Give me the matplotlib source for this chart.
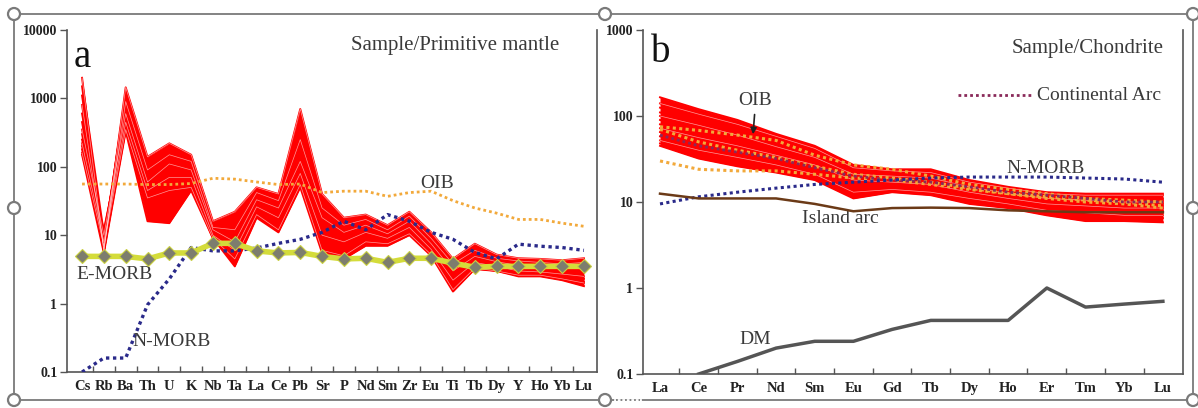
import numpy as np
import matplotlib
matplotlib.use("Agg")
import matplotlib.pyplot as plt
from matplotlib.lines import Line2D
from matplotlib.patches import Circle

plt.rcParams["font.family"] = ["Liberation Serif", "DejaVu Serif"]

# ── Data: panel a (primitive-mantle normalised spider diagram) ───────────────
pm_elements = ["Cs", "Rb", "Ba", "Th", "U", "K", "Nb", "Ta", "La", "Ce", "Pb", "Sr",
               "P", "Nd", "Sm", "Zr", "Eu", "Ti", "Tb", "Dy", "Y", "Ho", "Yb", "Lu"]

pm_samples = [
    [2000, 6, 1450, 140, 220, 150, 16, 22, 50, 40, 700, 40, 18, 20, 14, 22, 11, 4.5, 7.5, 5.2, 4.6, 4.5, 4.3, 4.6],
    [1500, 7, 1200, 120, 180, 140, 15, 18, 48, 38, 500, 35, 16, 19, 13, 21, 10, 4.2, 7.0, 5.0, 4.4, 4.3, 4.2, 4.4],
    [1100, 8, 1000, 100, 160, 130, 14, 15, 45, 35, 350, 30, 15, 18, 12.5, 20, 9.5, 4.0, 6.5, 4.8, 4.3, 4.2, 4.0, 4.2],
    [800, 6, 900, 90, 150, 120, 13, 12, 42, 32, 250, 25, 14, 17, 12, 19, 9, 3.8, 6.0, 4.6, 4.2, 4.0, 3.8, 4.0],
    [600, 9, 800, 80, 140, 110, 13, 10, 40, 30, 200, 22, 13, 16, 11.5, 18, 8.5, 3.5, 5.6, 4.5, 4.0, 3.9, 3.7, 3.8],
    [450, 7, 700, 70, 120, 100, 12, 9, 36, 28, 150, 20, 12, 15, 11, 17, 8, 3.2, 5.2, 4.3, 3.8, 3.7, 3.5, 3.5],
    [350, 10, 600, 60, 110, 90, 12, 8, 33, 25, 120, 18, 11, 14, 10.5, 16, 7.5, 3.0, 4.9, 4.1, 3.6, 3.5, 3.3, 3.3],
    [300, 6, 550, 55, 90, 80, 11, 7, 30, 22, 100, 15, 10, 13, 10, 15, 7, 2.8, 4.6, 3.9, 3.4, 3.3, 3.1, 3.0],
    [250, 11, 500, 50, 80, 75, 11, 6.5, 28, 20, 90, 12, 9, 12, 9.5, 14, 6.5, 2.5, 4.3, 3.7, 3.2, 3.1, 2.9, 2.8],
    [220, 8, 450, 45, 70, 70, 10, 6, 26, 18, 80, 10, 8, 11, 9, 13, 6.2, 2.2, 4.0, 3.5, 3.0, 2.9, 2.7, 2.5],
    [200, 12, 400, 40, 60, 60, 10, 5.5, 24, 16, 70, 8, 7, 10, 8.5, 12, 6, 2.0, 3.7, 3.3, 2.8, 2.8, 2.5, 2.3],
    [180, 6, 380, 38, 55, 55, 9.5, 5, 22, 14, 60, 7, 6, 9, 8, 11, 5.5, 1.8, 3.5, 3.1, 2.7, 2.7, 2.4, 2.1],
    [160, 7, 350, 35, 45, 50, 9, 4.5, 20, 12, 55, 6, 5, 8, 7.5, 10.5, 5.2, 1.6, 3.3, 3.0, 2.6, 2.6, 2.3, 2.0],
    [150, 5.5, 330, 16, 15, 45, 9, 3.5, 18, 11, 50, 5.5, 4.5, 7, 7, 10, 5, 1.5, 3.2, 3.0, 2.5, 2.5, 2.2, 1.8],
]

pm_oib = [56, 56, 56, 55, 55, 57, 68, 66, 60, 55, 56, 42, 44, 44, 37, 42, 44, 32, 25, 21, 17, 17, 15, 13.5]
pm_emorb = [4.9, 4.9, 4.9, 4.5, 5.5, 5.5, 7.6, 7.6, 5.9, 5.5, 5.6, 4.9, 4.5, 4.6, 4.0, 4.6, 4.6, 3.9, 3.4, 3.5, 3.5, 3.5, 3.5, 3.5]
pm_nmorb = [0.1, 0.16, 0.16, 0.96, 2.3, 6.6, 5.9, 5.9, 6.5, 7.6, 8.7, 11, 16, 12, 20, 16, 11, 8.7, 5.6, 4.5, 7.4, 6.9, 6.6, 6.0]

# ── Data: panel b (chondrite normalised REE) ─────────────────────────────────
ree_elements = ["La", "Ce", "Pr", "Nd", "Sm", "Eu", "Gd", "Tb", "Dy", "Ho", "Er", "Tm", "Yb", "Lu"]

ree_samples = [
    [165, 120, 90, 62, 45, 27, 24, 24, 18, 15, 13, 12.5, 12.5, 12.5],
    [140, 105, 80, 58, 42, 25, 23, 22, 17, 14.5, 12.5, 12, 12, 12],
    [125, 95, 72, 52, 38, 24, 22, 21, 16, 14, 12, 11.5, 11.5, 11],
    [110, 85, 65, 48, 35, 22, 21, 20, 15.5, 13, 11.5, 11, 10.5, 10.5],
    [100, 78, 60, 44, 33, 21, 20, 19, 15, 12.5, 11, 10.5, 10, 10],
    [90, 70, 55, 41, 31, 20, 19, 18, 14, 12, 10.5, 10, 9.5, 9.5],
    [80, 62, 50, 38, 29, 19, 18, 17, 13.5, 11.5, 10, 9.5, 9, 9],
    [72, 56, 45, 35, 27, 18, 17, 16, 13, 11, 9.5, 9, 8.5, 8.5],
    [65, 50, 41, 32, 25, 16, 16, 15, 12, 10.5, 9, 8.5, 8, 8],
    [58, 45, 37, 30, 23, 15, 15, 14, 11.5, 10, 8.5, 8, 7.5, 7.5],
    [52, 40, 33, 27, 21, 13, 14, 13, 11, 9.5, 8, 7.5, 7, 7],
    [48, 36, 29, 24, 19, 12, 13.5, 12.5, 10, 9, 7.5, 7, 6.5, 6.5],
    [45, 32, 26, 22, 18, 11, 13, 12, 9.5, 8.5, 7, 6, 6, 5.8],
]

ree_oib = [
    [75, 68, 60, 52, 35, 27, 24, 20, 16, 14, 12.5, 11, 10.5, 10],
    [70, 50, 40, 33, 26, 21, 19, 17, 14.5, 12.5, 11, 10, 9.5, 8.5],
    [30, 24, 23, 23, 21, 19, 18, 16, 14, 12.5, 11.5, 10.5, 10, 9],
]
ree_cont_arc = [60, 45, 38, 32, 25, 20, 18, 17, 15, 13, 12, 11, 10, 10]
ree_nmorb = [9.5, 11.5, 13, 14.5, 16, 17, 18, 19, 19.5, 19.5, 19.5, 19, 18.5, 17]
ree_island_arc = [12.5, 11, 11, 11, 9.5, 7.8, 8.5, 8.6, 8.5, 8.0, 7.8, 7.6, 7.6, 7.6]
ree_dm = [np.nan, 0.1, 0.14, 0.2, 0.24, 0.24, 0.33, 0.42, 0.42, 0.42, 1.0, 0.6, 0.65, 0.7]

# ── Styles ───────────────────────────────────────────────────────────────────
RED = "#ff0000"
ORANGE = "#f2a93b"
NAVY = "#2a2a8a"
TXT = "#3a3a3a"
DOT = (0, (1, 1.1))
FS = 14

fig = plt.figure(figsize=(11.98, 4.08), dpi=100)

# document frame with selection handles
bg = fig.add_axes([0, 0, 1, 1], zorder=-5)
bg.set_xlim(0, 1198); bg.set_ylim(408, 0); bg.axis("off")
fc = "#7a7a7a"
bg.plot([14, 1193], [14, 14], color=fc, lw=1.3)
bg.plot([14, 1193], [400, 400], color=fc, lw=1.3)
bg.plot([14, 14], [14, 400], color=fc, lw=1.3)
bg.plot([1193, 1193], [14, 400], color=fc, lw=1.3)
bg.plot([615, 640], [400, 400], color="white", lw=2)
bg.plot([616, 640], [400, 400], color=fc, lw=1.3, ls=(0, (1, 1.5)))
for cx, cy in [(14, 14), (14, 208), (14, 400), (605, 14), (605, 400),
               (1193, 14), (1193, 208), (1193, 400)]:
    bg.add_patch(Circle((cx, cy), 6, facecolor="white", edgecolor=fc, lw=1.6, zorder=3))


def style_axes(ax, labels, ylim, yticks, yticklabels, xfs):
    n = len(labels)
    ax.set_yscale("log")
    ax.set_ylim(*ylim)
    ax.set_xticks(range(n))
    ax.set_xticklabels(labels, fontsize=xfs, fontweight="bold", color="#222")
    ax.tick_params(axis="x", which="major", length=0, pad=6)
    ax.set_xticks(np.arange(n - 1) + 0.5, minor=True)
    ax.tick_params(axis="x", which="minor", direction="in", length=4, width=1, color="#555")
    ax.set_yticks(yticks)
    ax.set_yticklabels(yticklabels, fontsize=10, fontweight="bold", color="#222")
    ax.yaxis.set_minor_locator(matplotlib.ticker.NullLocator())
    ax.tick_params(axis="y", which="major", direction="out", length=5, width=1, color="#555", pad=2)
    ax.spines["top"].set_visible(False)
    for s in ("left", "bottom", "right"):
        ax.spines[s].set_color("#555")
        ax.spines[s].set_linewidth(1.2)


# ── Panel a ──────────────────────────────────────────────────────────────────
axa = fig.add_axes([67 / 1198, 36 / 408, 530 / 1198, 342 / 408])
xa = np.arange(len(pm_elements))
pm_arr = np.array(pm_samples)
axa.fill_between(xa, pm_arr.min(axis=0), pm_arr.max(axis=0), color=RED, lw=0, zorder=2)
for s in pm_samples:
    axa.plot(xa, s, color=RED, lw=1.4, zorder=2)
for s in pm_samples[::3]:
    axa.plot(xa, s, color="white", lw=0.5, alpha=0.6, zorder=2.1)
axa.plot(xa, pm_oib, color=ORANGE, lw=2, ls=DOT, zorder=3)
axa.plot(xa, pm_nmorb, color=NAVY, lw=2.4, ls=DOT, zorder=3)
axa.plot(xa, pm_emorb, color="#d4dc3a", lw=4, zorder=4)
axa.plot(xa, pm_emorb, ls="none", marker="D", ms=7, mfc="#7d7d6e", mec="#c9d040", mew=0.8, zorder=5)
axa.set_xlim(-0.69, 23.6)
style_axes(axa, pm_elements, (0.1, 10000), [0.1, 1, 10, 100, 1000, 10000],
           ["0.1", "1", "10", "100", "1000", "10000"], 10.5)

axa.text(0.012, 0.92, "a", transform=axa.transAxes, fontsize=28, va="center", color="#111")
axa.text(0.536, 0.956, "Sample/Primitive mantle", transform=axa.transAxes,
         fontsize=15, va="center", color=TXT)
axa.text(16.26, 57, "OIB", fontsize=FS, ha="center", va="center", color=TXT)
axa.text(1.47, 2.7, "E-MORB", fontsize=FS, ha="center", va="center", color=TXT)
axa.text(4.12, 0.28, "N-MORB", fontsize=FS, ha="center", va="center", color=TXT)

# ── Panel b ──────────────────────────────────────────────────────────────────
axb = fig.add_axes([643 / 1198, 34 / 408, 540 / 1198, 344 / 408])
xb = np.arange(len(ree_elements))
ree_arr = np.array(ree_samples)
axb.fill_between(xb, ree_arr.min(axis=0), ree_arr.max(axis=0), color=RED, lw=0, zorder=2)
for s in ree_samples:
    axb.plot(xb, s, color=RED, lw=1.4, zorder=2)
for s in ree_samples[1::3]:
    axb.plot(xb, s, color="white", lw=0.5, alpha=0.6, zorder=2.1)
for s in ree_oib:
    axb.plot(xb, s, color=ORANGE, lw=2.2, ls=DOT, zorder=3)
axb.plot(xb, ree_cont_arc, color="#8a2a5a", lw=2, ls=DOT, zorder=3)
axb.plot(xb, ree_nmorb, color=NAVY, lw=2.2, ls=DOT, zorder=3)
axb.plot(xb, ree_island_arc, color="#6b3a17", lw=1.8, zorder=4)
axb.plot(xb, ree_dm, color="#555555", lw=2.5, zorder=4)
axb.set_xlim(-0.44, 13.52)
style_axes(axb, ree_elements, (0.1, 1000), [0.1, 1, 10, 100, 1000],
           ["0.1", "1", "10", "100", "1000"], 10.5)

axb.text(0.015, 0.936, "b", transform=axb.transAxes, fontsize=28, va="center", color="#111")
axb.text(0.965, 0.945, "Sample/Chondrite", transform=axb.transAxes, fontsize=15,
         ha="right", va="center", color=TXT)
axb.add_line(Line2D([0.583, 0.72], [0.811, 0.811], transform=axb.transAxes,
                    color="#8a2a5a", lw=2, ls=DOT))
axb.text(0.73, 0.811, "Continental Arc", transform=axb.transAxes, fontsize=FS,
         va="center", color=TXT)
axb.text(2.45, 153, "OIB", fontsize=FS, ha="center", va="center", color=TXT)
axb.annotate("", xy=(2.4, 57), xytext=(2.45, 112),
             arrowprops=dict(arrowstyle="-|>", color="#222", lw=1.2, mutation_scale=9))
axb.text(9.97, 24.8, "N-MORB", fontsize=FS, ha="center", va="center", color=TXT)
axb.text(4.65, 6.5, "Island arc", fontsize=FS, ha="center", va="center", color=TXT)
axb.text(2.45, 0.25, "DM", fontsize=FS, ha="center", va="center", color=TXT)

fig.savefig("out.png", dpi=100)
